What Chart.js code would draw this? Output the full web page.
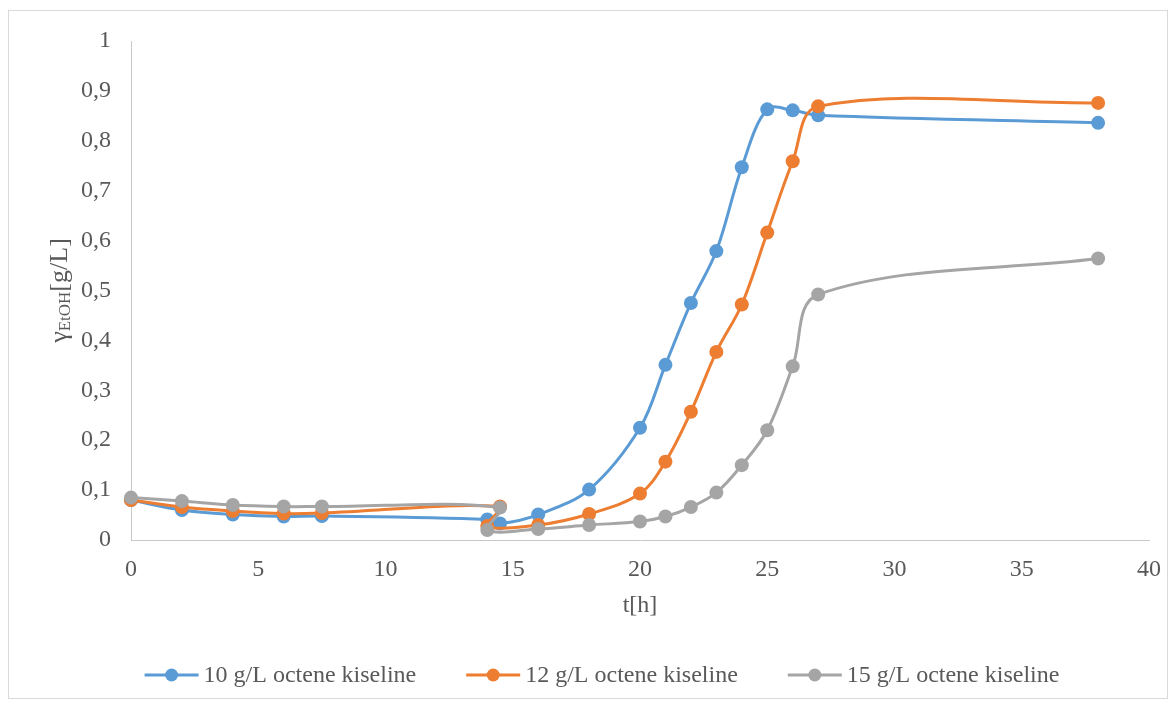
<!DOCTYPE html>
<html>
<head>
<meta charset="utf-8">
<script src="https://cdn.jsdelivr.net/npm/chart.js@4.4.1/dist/chart.umd.min.js"></script>
<style>
  html, body { margin: 0; padding: 0; background: #ffffff; }
  #wrap { position: relative; width: 1176px; height: 704px; }
  #frame { position: absolute; left: 8px; top: 10px; width: 1160px; height: 689px; border: 1px solid #d9d9d9; box-sizing: border-box; pointer-events: none; }
  canvas { position: absolute; left: 0; top: 0; }
</style>
</head>
<body>
<div id="wrap">
  <canvas id="c" width="1176" height="704"></canvas>
  <div id="frame"></div>
</div>
<script>
// ---- data ----
const seriesNames = ["10 g/L octene kiseline", "12 g/L octene kiseline", "15 g/L octene kiseline"];
const t10 = [0, 2, 4, 6, 7.5, 14, 14.5, 16, 18, 20, 21, 22, 23, 24, 25, 26, 27, 38];
const y10 = [0.080, 0.060, 0.051, 0.047, 0.048, 0.041, 0.033, 0.051, 0.101, 0.225, 0.351, 0.475, 0.579, 0.747, 0.863, 0.861, 0.851, 0.836];
const t12 = [0, 2, 4, 6, 7.5, 14.5, 14, 16, 18, 20, 21, 22, 23, 24, 25, 26, 27, 38];
const y12 = [0.080, 0.066, 0.058, 0.053, 0.054, 0.067, 0.028, 0.030, 0.052, 0.093, 0.157, 0.257, 0.377, 0.472, 0.616, 0.759, 0.869, 0.876];
const t15 = [0, 2, 4, 6, 7.5, 14.5, 14, 16, 18, 20, 21, 22, 23, 24, 25, 26, 27, 38];
const y15 = [0.085, 0.078, 0.070, 0.067, 0.067, 0.065, 0.020, 0.022, 0.030, 0.037, 0.047, 0.066, 0.095, 0.150, 0.220, 0.348, 0.492, 0.564];
const xTicks = [0, 5, 10, 15, 20, 25, 30, 35, 40];
const yTicks = [0, 0.1, 0.2, 0.3, 0.4, 0.5, 0.6, 0.7, 0.8, 0.9, 1];
const xTitle = "t[h]";
const yTitleMain = "\u03B3";
const yTitleSub = "EtOH";
const yTitleUnit = "[g/L]";

const colors = ["#5B9BD5", "#ED7D31", "#A5A5A5"];
const FONT = "'Liberation Serif', 'Times New Roman', serif";
const TEXT = "#595959";

function pts(xs, ys) { return xs.map((x, i) => ({ x: x, y: ys[i] })); }

function makeDs(i, xs, ys, order) {
  return {
    label: seriesNames[i],
    data: pts(xs, ys),
    showLine: true,
    borderColor: colors[i],
    backgroundColor: colors[i],
    borderWidth: 3,
    pointRadius: 7,
    pointHoverRadius: 7,
    pointBorderWidth: 0,
    pointBackgroundColor: colors[i],
    tension: 0.35,
    clip: false,
    order: order
  };
}

const yTitlePlugin = {
  id: 'yTitle',
  afterDraw(chart) {
    const ctx = chart.ctx;
    const ca = chart.chartArea;
    const cy = (ca.top + ca.bottom) / 2;
    ctx.save();
    ctx.fillStyle = TEXT;
    ctx.textBaseline = 'middle';
    ctx.textAlign = 'left';
    const fMain = "26px " + FONT;
    const fSub = "17px " + FONT;
    ctx.font = fMain;
    const w1 = ctx.measureText(yTitleMain).width;
    const w3 = ctx.measureText(yTitleUnit).width;
    ctx.font = fSub;
    const w2 = ctx.measureText(yTitleSub).width;
    const total = w1 + w2 + w3;
    ctx.translate(60, cy);
    ctx.rotate(-Math.PI / 2);
    let x = -total / 2;
    ctx.font = fMain;
    ctx.fillText(yTitleMain, x, 0);
    x += w1;
    ctx.font = fSub;
    ctx.fillText(yTitleSub, x, 6);
    x += w2;
    ctx.font = fMain;
    ctx.fillText(yTitleUnit, x, 0);
    ctx.restore();
  }
};

const legendPlugin = {
  id: 'customLegend',
  afterDraw(chart) {
    const ctx = chart.ctx;
    ctx.save();
    ctx.font = "24px " + FONT;
    ctx.textBaseline = 'middle';
    ctx.textAlign = 'left';
    const lineW = 54, gapText = 5, gapItem = 50;
    const widths = seriesNames.map(n => lineW + gapText + ctx.measureText(n).width);
    const total = widths.reduce((a, b) => a + b, 0) + gapItem * (seriesNames.length - 1);
    const centerX = 602;
    const y = 675;
    let x = centerX - total / 2;
    seriesNames.forEach((n, i) => {
      ctx.strokeStyle = colors[i];
      ctx.lineWidth = 3;
      ctx.beginPath();
      ctx.moveTo(x, y);
      ctx.lineTo(x + lineW, y);
      ctx.stroke();
      ctx.fillStyle = colors[i];
      ctx.beginPath();
      ctx.arc(x + lineW / 2, y, 6.5, 0, Math.PI * 2);
      ctx.fill();
      ctx.fillStyle = TEXT;
      ctx.fillText(n, x + lineW + gapText, y + 1);
      x += widths[i] + gapItem;
    });
    ctx.restore();
  }
};

new Chart(document.getElementById('c'), {
  type: 'scatter',
  data: {
    datasets: [
      makeDs(0, t10, y10, 2),
      makeDs(1, t12, y12, 1),
      makeDs(2, t15, y15, 0)
    ]
  },
  options: {
    responsive: false,
    animation: false,
    devicePixelRatio: 1,
    layout: { padding: { left: 0, top: 41, right: 27, bottom: 80 } },
    plugins: {
      legend: { display: false },
      tooltip: { enabled: false }
    },
    scales: {
      x: {
        type: 'linear',
        min: 0,
        max: 40,
        afterBuildTicks: (scale) => { scale.ticks = xTicks.map(v => ({ value: v })); },
        afterFit: (scale) => { scale.height = 84; },
        grid: { display: false, drawTicks: false },
        border: { display: true, color: '#c8c8c8', width: 1 },
        ticks: {
          padding: 15,
          color: TEXT,
          font: { family: FONT, size: 24 },
          callback: (v) => String(v)
        },
        title: {
          display: true,
          text: xTitle,
          color: TEXT,
          font: { family: FONT, size: 24 },
          padding: { top: 0, bottom: 4 }
        }
      },
      y: {
        type: 'linear',
        min: 0,
        max: 1,
        afterBuildTicks: (scale) => { scale.ticks = yTicks.map(v => ({ value: v })); },
        afterFit: (scale) => { scale.width = 131; },
        grid: { display: false, drawTicks: false },
        border: { display: true, color: '#c8c8c8', width: 1 },
        ticks: {
          padding: 20,
          color: TEXT,
          font: { family: FONT, size: 24 },
          callback: (v) => String(Math.round(v * 10) / 10).replace('.', ',')
        }
      }
    }
  },
  plugins: [yTitlePlugin, legendPlugin]
});
</script>
</body>
</html>
